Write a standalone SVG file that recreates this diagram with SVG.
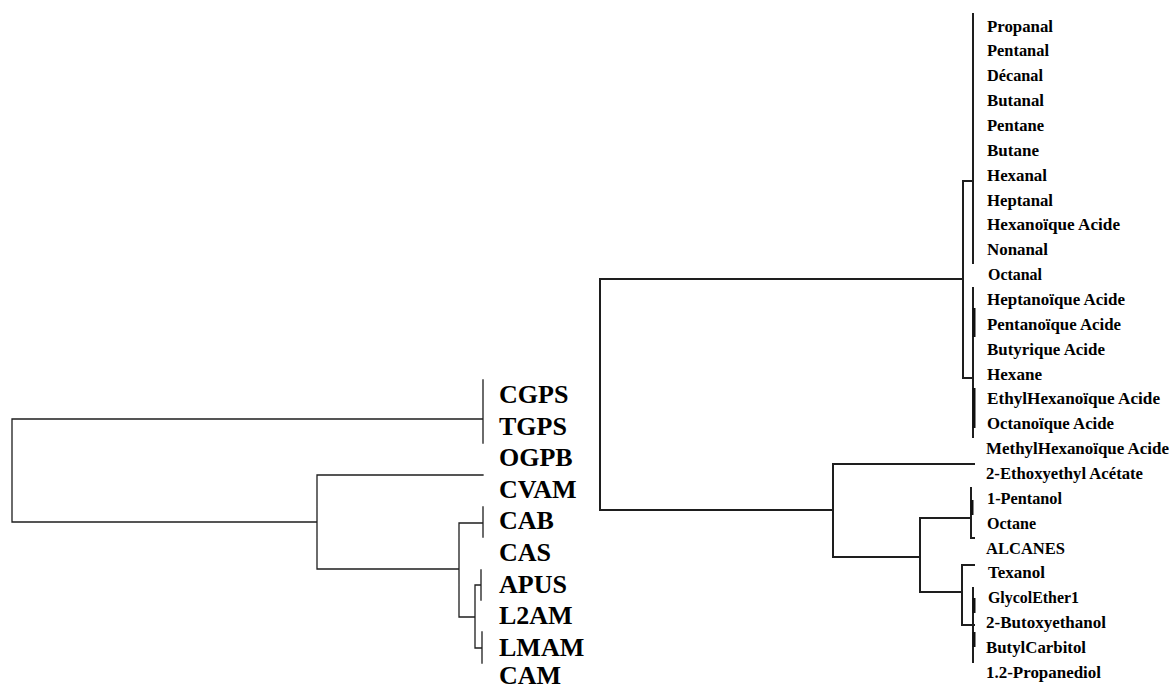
<svg xmlns="http://www.w3.org/2000/svg" width="1171" height="689" viewBox="0 0 1171 689">
<style>
.ln{fill:none;stroke:#1e1e1e;stroke-width:1.3;stroke-linecap:square}
.ln2{fill:none;stroke:#1e1e1e;stroke-width:2;stroke-linecap:square}
.thk{fill:none;stroke:#111;stroke-width:3}
.big{font-family:"Liberation Serif",serif;font-weight:bold;font-size:26px;fill:#000}
.sm{font-family:"Liberation Serif",serif;font-weight:bold;font-size:16px;fill:#000}
</style>
<rect width="1171" height="689" fill="#fff"/>
<g id="connectors">
<path class="ln" d="M12,419V522M12,419H483M483,380V443M12,522H317M317,475V569M317,475H483M317,569H459M459,523V617M459,523H483M483,507V537M459,617H475M475,585V648M475,585H481M481,570V600M475,648H482M482,632V663"/>
<path class="ln2" d="M600,279V510M600,279H963M963,181V378M963,181H973M973,14V263M963,378H973M973,288V437M600,510H833M833,464V557M833,464H974M833,557H920M920,518V592M920,518H971M971,488V538M971,538H974M920,592H962M962,565V625M962,565H974M962,625H974M973,588V662"/>
<path class="thk" d="M974,308V337M974,388V428M972,500V515M974,598V613M974,632V647"/>
</g>
<g id="left-labels">
<g id="n-CGPS"><text class="big" x="499" y="403">CGPS</text></g>
<g id="n-TGPS"><text class="big" x="499" y="434.6">TGPS</text></g>
<g id="n-OGPB"><text class="big" x="499" y="466.2">OGPB</text></g>
<g id="n-CVAM"><text class="big" x="499" y="497.8">CVAM</text></g>
<g id="n-CAB"><text class="big" x="499" y="529.4">CAB</text></g>
<g id="n-CAS"><text class="big" x="499" y="561">CAS</text></g>
<g id="n-APUS"><text class="big" x="499" y="592.6">APUS</text></g>
<g id="n-L2AM"><text class="big" x="499" y="624.2">L2AM</text></g>
<g id="n-LMAM"><text class="big" x="499" y="655.8">LMAM</text></g>
<g id="n-CAM"><text class="big" x="499" y="684">CAM</text></g>
</g>
<g id="right-labels">
<g id="r1"><text class="sm" x="987" y="31.5" textLength="66" lengthAdjust="spacingAndGlyphs">Propanal</text></g>
<g id="r2"><text class="sm" x="987" y="56.4" textLength="62" lengthAdjust="spacingAndGlyphs">Pentanal</text></g>
<g id="r3"><text class="sm" x="987" y="81.2" textLength="56" lengthAdjust="spacingAndGlyphs">Décanal</text></g>
<g id="r4"><text class="sm" x="987" y="106.1" textLength="57" lengthAdjust="spacingAndGlyphs">Butanal</text></g>
<g id="r5"><text class="sm" x="987" y="130.9" textLength="57" lengthAdjust="spacingAndGlyphs">Pentane</text></g>
<g id="r6"><text class="sm" x="987" y="155.8" textLength="52" lengthAdjust="spacingAndGlyphs">Butane</text></g>
<g id="r7"><text class="sm" x="987" y="180.7" textLength="60" lengthAdjust="spacingAndGlyphs">Hexanal</text></g>
<g id="r8"><text class="sm" x="987" y="205.5" textLength="66" lengthAdjust="spacingAndGlyphs">Heptanal</text></g>
<g id="r9"><text class="sm" x="987" y="230.4" textLength="133" lengthAdjust="spacingAndGlyphs">Hexanoïque Acide</text></g>
<g id="r10"><text class="sm" x="987" y="255.2" textLength="61" lengthAdjust="spacingAndGlyphs">Nonanal</text></g>
<g id="r11"><text class="sm" x="988" y="280.1" textLength="54" lengthAdjust="spacingAndGlyphs">Octanal</text></g>
<g id="r12"><text class="sm" x="987" y="305" textLength="138" lengthAdjust="spacingAndGlyphs">Heptanoïque Acide</text></g>
<g id="r13"><text class="sm" x="987" y="329.8" textLength="134" lengthAdjust="spacingAndGlyphs">Pentanoïque Acide</text></g>
<g id="r14"><text class="sm" x="987" y="354.7" textLength="118" lengthAdjust="spacingAndGlyphs">Butyrique Acide</text></g>
<g id="r15"><text class="sm" x="987" y="379.5" textLength="55" lengthAdjust="spacingAndGlyphs">Hexane</text></g>
<g id="r16"><text class="sm" x="987" y="404.4" textLength="173" lengthAdjust="spacingAndGlyphs">EthylHexanoïque Acide</text></g>
<g id="r17"><text class="sm" x="987" y="429.3" textLength="127" lengthAdjust="spacingAndGlyphs">Octanoïque Acide</text></g>
<g id="r18"><text class="sm" x="986" y="454.1" textLength="183" lengthAdjust="spacingAndGlyphs">MethylHexanoïque Acide</text></g>
<g id="r19"><text class="sm" x="986" y="479" textLength="157" lengthAdjust="spacingAndGlyphs">2-Ethoxyethyl Acétate</text></g>
<g id="r20"><text class="sm" x="987" y="503.8" textLength="75" lengthAdjust="spacingAndGlyphs">1-Pentanol</text></g>
<g id="r21"><text class="sm" x="987" y="528.7" textLength="49" lengthAdjust="spacingAndGlyphs">Octane</text></g>
<g id="r22"><text class="sm" x="986" y="553.6" textLength="79" lengthAdjust="spacingAndGlyphs">ALCANES</text></g>
<g id="r23"><text class="sm" x="988" y="578.4" textLength="57" lengthAdjust="spacingAndGlyphs">Texanol</text></g>
<g id="r24"><text class="sm" x="988" y="603.3" textLength="91" lengthAdjust="spacingAndGlyphs">GlycolEther1</text></g>
<g id="r25"><text class="sm" x="986" y="628.1" textLength="120" lengthAdjust="spacingAndGlyphs">2-Butoxyethanol</text></g>
<g id="r26"><text class="sm" x="986" y="653" textLength="100" lengthAdjust="spacingAndGlyphs">ButylCarbitol</text></g>
<g id="r27"><text class="sm" x="986" y="677.9" textLength="115" lengthAdjust="spacingAndGlyphs">1.2-Propanediol</text></g>
</g>
</svg>
